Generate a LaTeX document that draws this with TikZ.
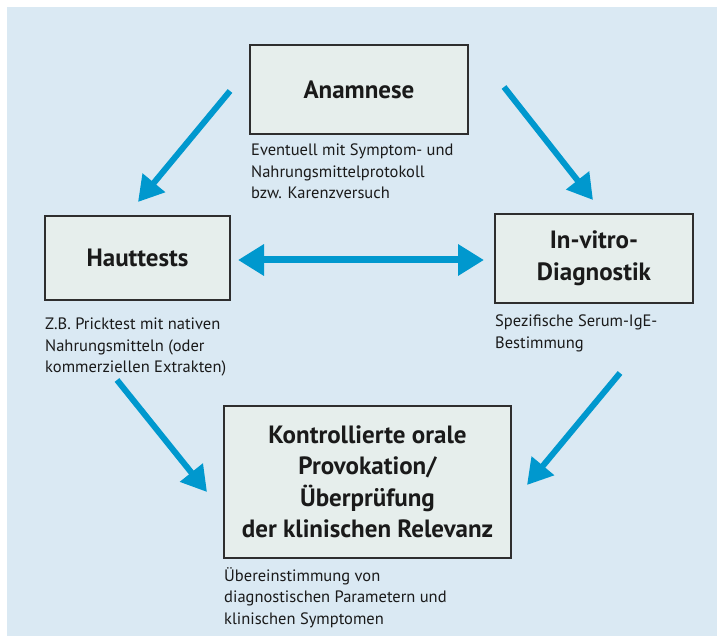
\documentclass[tikz,border=0pt]{standalone}
\usepackage{fontspec}
\setmainfont{PT Sans}
\usetikzlibrary{arrows.meta}
\definecolor{bgblue}{HTML}{DAE9F3}
\definecolor{arrblue}{HTML}{0098CE}
\definecolor{boxfill}{HTML}{E6EEEC}
\definecolor{boxline}{HTML}{2E2E2E}
\definecolor{txt}{HTML}{1A1A1A}
\begin{document}
\begin{tikzpicture}[x=1pt,y=-1pt,
  stagebox/.style={draw=boxline,line width=1.5pt,fill=boxfill,inner sep=0pt,
    align=center,text=txt,font=\bfseries\fontsize{25}{31.5}\selectfont},
  caption/.style={anchor=north west,inner sep=0pt,align=left,text=txt,
    font=\fontsize{16.5}{21.5}\selectfont},
  flowarrow/.style={draw=arrblue,line width=6pt,
    -{Triangle[length=25pt,width=28pt]}},
  botharrow/.style={draw=arrblue,line width=7pt,
    {Triangle[length=26pt,width=30pt]}-{Triangle[length=26pt,width=30pt]}}]
\useasboundingbox (0,0) rectangle (717,636);
\fill[bgblue] (7,7) rectangle (717,636);
% boxes
\node[stagebox,minimum width=218pt,minimum height=89pt] (anam) at (359,89.5) {Anamnese};
\node[stagebox,minimum width=185pt,minimum height=84pt] (haut) at (137.5,258) {Hauttests};
\node[stagebox,minimum width=198pt,minimum height=89pt] (invitro) at (594,258.5) {In-vitro-\\Diagnostik};
\node[stagebox,minimum width=287pt,minimum height=152pt] (prov) at (367.5,482) {Kontrollierte orale\\Provokation/\\Überprüfung\\der klinischen Relevanz};
% captions
\node[caption] (canam) at (251,144) {Eventuell mit Symptom- und\\Nahrungsmittelprotokoll\\bzw. Karenzversuch};
\node[caption] (chaut) at (45,318) {Z.B. Pricktest mit nativen\\Nahrungsmitteln (oder\\kommerziellen Extrakten)};
\node[caption] (cinvitro) at (495,315) {Spezifische Serum-IgE-\\Bestimmung};
\node[caption] (cprov) at (224,567) {Übereinstimmung von\\diagnostischen Parametern und\\klinischen Symptomen};
% arrow end points
\coordinate (a1s) at (230,91);
\coordinate (a1e) at (138,202);
\coordinate (a2s) at (504,87);
\coordinate (a2e) at (593,200);
\coordinate (a3s) at (238,260);
\coordinate (a3e) at (484,260);
\coordinate (a4s) at (117,380);
\coordinate (a4e) at (207,492);
\coordinate (a5s) at (620,373);
\coordinate (a5e) at (527,485);
\draw[flowarrow] (a1s) -- (a1e);
\draw[flowarrow] (a2s) -- (a2e);
\draw[botharrow] (a3s) -- (a3e);
\draw[flowarrow] (a4s) -- (a4e);
\draw[flowarrow] (a5s) -- (a5e);
\end{tikzpicture}
\end{document}
